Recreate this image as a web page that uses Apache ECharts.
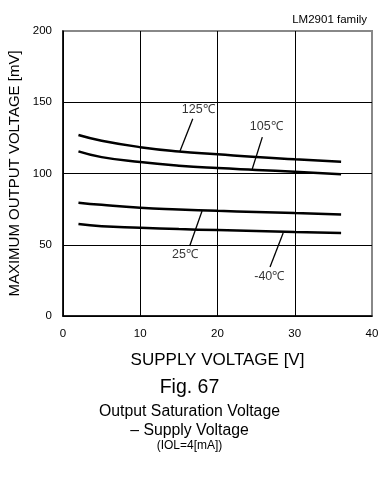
<!DOCTYPE html>
<html><head><meta charset="utf-8">
<script src="https://cdn.jsdelivr.net/npm/echarts@6/dist/echarts.min.js"></script>
<style>html,body{margin:0;padding:0;background:#fff}#c{width:379px;height:480px}</style>
</head><body><div id="c"></div>
<script>
const supplyV = [2, 5, 10, 15, 20, 25, 30, 36];
const v125 = [127, 123, 118.5, 115.5, 113.5, 111.5, 110, 108.3];
const v105 = [115.5, 111.5, 108, 105.5, 103.8, 102.5, 101.2, 99.5];
const v25 = [79.5, 78, 76, 74.8, 73.8, 73, 72.2, 71.3];
const vm40 = [64.5, 63, 62, 61, 60.3, 59.7, 59, 58.3];
const curveNames = ['125℃', '105℃', '25℃', '-40℃'];
// annotation: label position and leader line (data units)
const labelPos = [[17.5, 144.6], [26.3, 133.3], [15.8, 42.8], [26.7, 27.4]];
const leaders = [
  [[16.8, 138.5], [15.1, 115.1]],
  [[25.8, 125.5], [24.5, 103.2]],
  [[16.4, 49.1], [18.0, 73.7]],
  [[26.8, 34.4], [28.5, 58.2]]
];
const xTicks = [0, 10, 20, 30, 40];
const yTicks = [0, 50, 100, 150, 200];

const F = 'Liberation Sans, Arial, sans-serif';
const curves = [v125, v105, v25, vm40];
const series = [];
curves.forEach((vals, i) => {
  series.push({
    type: 'line', smooth: true, symbol: 'none',
    data: supplyV.map((x, j) => [x, vals[j]]),
    lineStyle: { color: '#000', width: 2.5 }, z: 5
  });
  series.push({
    type: 'line', symbol: 'none', data: leaders[i],
    lineStyle: { color: '#000', width: 1.3 }, z: 4
  });
});
series.push({
  type: 'scatter', symbolSize: 0,
  data: labelPos.map((p, i) => ({ value: p, name: curveNames[i] })),
  label: { show: true, position: 'inside', formatter: '{b}', color: '#000', fontSize: 12.5, fontFamily: F },
  z: 6
});

const T = (text, size, top, extra) => Object.assign({
  text: text, top: top,
  textStyle: { fontSize: size, fontWeight: 'normal', color: '#000', fontFamily: F, lineHeight: size }
}, extra);

const chart = echarts.init(document.getElementById('c'), null, { renderer: 'canvas' });
chart.setOption({
  animation: false,
  backgroundColor: '#fff',
  title: [
    T('LM2901 family', 11.5, 9, { right: 7 }),
    T('Fig. 67', 19.5, 373, { left: 'center' }),
    T('Output Saturation Voltage', 15.8, 399, { left: 'center' }),
    T('– Supply Voltage', 15.8, 418, { left: 'center' }),
    T('(IOL=4[mA])', 12, 435, { left: 'center' })
  ],
  grid: { left: 63, right: 7, top: 31, bottom: 164, show: true, borderColor: '#888', borderWidth: 2,
          backgroundColor: 'transparent', outerBoundsMode: 'none' },
  xAxis: {
    type: 'value', min: xTicks[0], max: xTicks[xTicks.length - 1], interval: 10,
    name: 'SUPPLY VOLTAGE [V]', nameLocation: 'middle', nameGap: 36,
    nameTextStyle: { fontSize: 17, color: '#000', fontFamily: F },
    axisLine: { lineStyle: { color: '#000', width: 1.5 } },
    axisTick: { show: false },
    axisLabel: { fontSize: 11.5, color: '#000', fontFamily: F, margin: 12 },
    splitLine: { showMaxLine: false, lineStyle: { color: '#000', width: 1 } }
  },
  yAxis: {
    type: 'value', min: yTicks[0], max: yTicks[yTicks.length - 1], interval: 50,
    name: 'MAXIMUM OUTPUT VOLTAGE [mV]', nameLocation: 'middle', nameGap: 37,
    nameTextStyle: { fontSize: 15, color: '#000', fontFamily: F },
    axisLine: { show: true, lineStyle: { color: '#000', width: 1.5 } },
    axisTick: { show: false },
    axisLabel: { fontSize: 11.5, color: '#000', fontFamily: F, margin: 11 },
    splitLine: { showMaxLine: false, lineStyle: { color: '#000', width: 1 } }
  },
  series: series
});
</script></body></html>
